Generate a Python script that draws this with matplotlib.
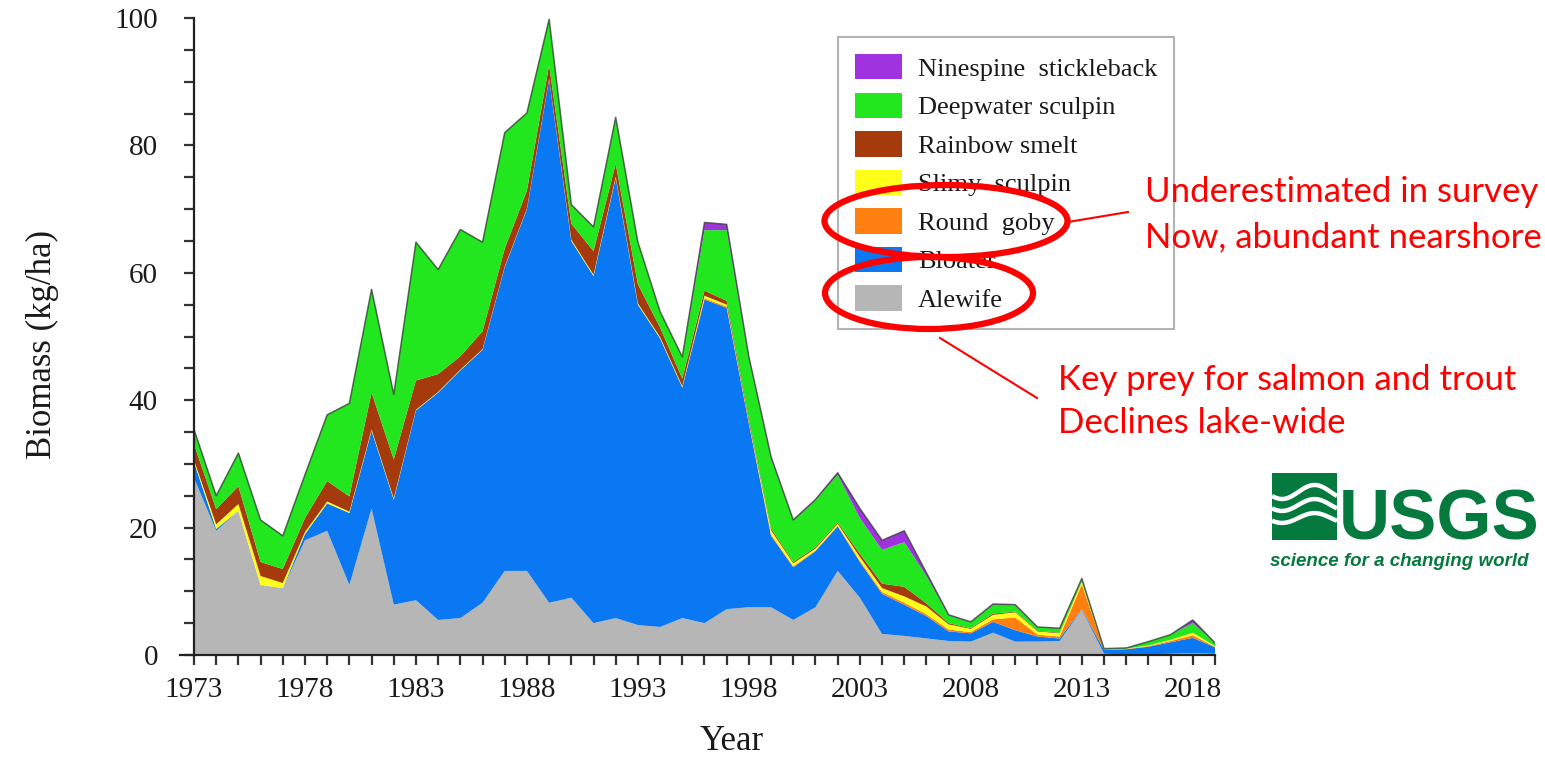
import matplotlib
matplotlib.use("Agg")
import matplotlib.pyplot as plt
from matplotlib.patches import Ellipse, Rectangle
from matplotlib.lines import Line2D
import numpy as np

# ---- data (kg/ha) ----
years = list(range(1973, 2020))

alewife = [27.8, 19.5, 22.6, 11.0, 10.5, 18.0, 19.5, 11.0, 23.0, 7.9,
           8.6, 5.5, 5.8, 8.2, 13.2, 13.2, 8.2, 9.0, 5.0, 5.8,
           4.7, 4.4, 5.8, 5.0, 7.2, 7.5, 7.5, 5.5, 7.5, 13.2,
           9.0, 3.3, 3.0, 2.6, 2.2, 2.1, 3.5, 2.1, 2.1, 2.2,
           7.1, 0.2, 0.1, 0.1, 0.2, 0.3, 0.2]
bloater = [2.5, 0.3, 0.0, 0.0, 0.0, 1.0, 4.3, 11.3, 12.2, 16.5,
           29.8, 35.7, 38.9, 39.7, 47.7, 56.8, 82.2, 56.0, 54.5, 69.1,
           50.3, 45.3, 36.2, 50.8, 47.3, 28.8, 11.2, 8.3, 8.8, 7.0,
           5.6, 6.3, 4.9, 3.5, 1.5, 1.3, 1.7, 1.8, 0.8, 0.4,
           0.1, 0.6, 0.8, 1.2, 1.8, 2.4, 1.0]
round_goby = [0.0] * 23 + [0.2, 0.2, 0.1, 0.2, 0.1, 0.1, 0.1,
              0.2, 0.3, 0.3, 0.3, 0.3, 0.2, 0.4, 2.0, 0.3, 0.3,
              3.9, 0.1, 0.05, 0.1, 0.2, 0.4, 0.1]
slimy_sculpin = [0.3, 0.7, 1.1, 1.4, 0.8, 0.3, 0.3, 0.2, 0.2, 0.2,
                 0.1, 0.1, 0.1, 0.1, 0.1, 0.1, 0.1, 0.2, 0.2, 0.2,
                 0.2, 0.2, 0.2, 0.4, 0.3, 0.2, 0.7, 0.5, 0.3, 0.3,
                 0.6, 0.6, 1.0, 1.2, 0.8, 0.5, 0.7, 0.8, 0.5, 0.5,
                 0.4, 0.0, 0.05, 0.1, 0.2, 0.4, 0.1]
rainbow_smelt = [2.5, 2.4, 2.8, 2.2, 2.2, 2.2, 3.2, 2.4, 5.8, 6.1,
                 4.6, 2.8, 2.1, 2.8, 2.8, 2.8, 2.1, 2.5, 3.7, 2.0,
                 3.0, 1.5, 1.2, 0.8, 0.6, 0.5, 0.3, 0.2, 0.2, 0.2,
                 0.5, 0.7, 1.5, 0.5, 0.2, 0.1, 0.2, 0.1, 0.1, 0.1,
                 0.1, 0.0, 0.0, 0.0, 0.0, 0.0, 0.0]
deepwater_sculpin = [2.3, 2.1, 5.2, 6.6, 5.2, 6.8, 10.4, 14.6, 16.2, 10.2,
                     21.7, 16.4, 19.9, 14.0, 18.2, 12.2, 7.2, 3.0, 3.8, 7.3,
                     6.6, 2.5, 3.4, 9.5, 11.1, 9.5, 11.0, 6.5, 7.4, 7.5,
                     5.6, 5.3, 7.0, 4.3, 1.2, 0.95, 1.4, 1.0, 0.55, 0.65,
                     0.4, 0.1, 0.1, 0.6, 0.8, 1.5, 0.5]
ninespine_stickleback = [0.0] * 23 + [1.2, 0.9, 0.2, 0.2, 0.1, 0.1, 0.3,
                         1.5, 1.5, 1.8, 0.5, 0.1, 0.05, 0.1, 0.1, 0.05, 0.05,
                         0.0, 0.0, 0.0, 0.0, 0.0, 0.5, 0.0]

series = [alewife, bloater, round_goby, slimy_sculpin, rainbow_smelt,
          deepwater_sculpin, ninespine_stickleback]
names = ["Alewife", "Bloater", "Round  goby", "Slimy  sculpin", "Rainbow smelt",
         "Deepwater sculpin", "Ninespine  stickleback"]
colors = ["#b6b6b6", "#0a78f2", "#ff7f10", "#ffff1a", "#a53a0c",
          "#22e61e", "#a032e0"]

W, H = 1545, 758


def fx(x):
    return x / W


def fy(y):
    return 1 - y / H


serif = ["Liberation Serif", "DejaVu Serif"]
ink = "#1a1a1a"

fig = plt.figure(figsize=(W / 100, H / 100), dpi=100)
fig.patch.set_facecolor("white")

ax = fig.add_axes([fx(194), fy(655), (1215 - 194) / W, (655 - 18) / H])
ax.stackplot(years, *series, colors=colors, labels=names, linewidth=0)
total = np.sum(np.array(series), axis=0)
ax.plot(years, total, color="#334433", lw=1.1, alpha=0.8)

ax.set_xlim(1973, 2019)
ax.set_ylim(0, 100)
ax.set_xticks(range(1973, 2019, 5))
ax.set_xticks(range(1973, 2020), minor=True)
ax.set_yticks(range(0, 101, 20))
ax.set_yticks(range(0, 101, 5), minor=True)
for s in ("top", "right"):
    ax.spines[s].set_visible(False)
for s in ("left", "bottom"):
    ax.spines[s].set_linewidth(1.6)
    ax.spines[s].set_color("#222222")
ax.tick_params(which="both", direction="out", length=7, width=1.6, color="#333333")
ax.tick_params(axis="x", which="major", pad=9)
ax.tick_params(axis="y", which="major", pad=19)
for lab in ax.get_xticklabels() + ax.get_yticklabels():
    lab.set_fontfamily(serif)
    lab.set_fontsize(21)
    lab.set_color(ink)

# short extension of the base line to the left of the first year
fig.add_artist(Line2D([fx(180), fx(194)], [fy(655), fy(655)], transform=fig.transFigure,
                      color="#222222", lw=1.6))

fig.text(fx(732), fy(741), "Year", fontfamily=serif, fontsize=25, color=ink,
         ha="center", va="center")
fig.text(fx(42), fy(345), "Biomass (kg/ha)", fontfamily=serif, fontsize=25, color=ink,
         ha="center", va="center", rotation=90)

handles, labels = ax.get_legend_handles_labels()
leg = ax.legend(handles[::-1], labels[::-1], loc="upper left",
                bbox_to_anchor=(fx(838), fy(37)), bbox_transform=fig.transFigure,
                borderaxespad=0, prop={"family": serif, "size": 19},
                handlelength=1.78, handleheight=1.1, labelspacing=0.45,
                borderpad=0.65, handletextpad=0.6, fancybox=False, frameon=True)
leg.get_frame().set_edgecolor("#a0a0a0")
leg.get_frame().set_linewidth(1.5)
for t in leg.get_texts():
    t.set_color(ink)

# ---- callouts ----
red = "#ff0000"
fig.add_artist(Ellipse((fx(946), fy(221)), 243 / W, 72 / H, transform=fig.transFigure,
                       fill=False, edgecolor=red, lw=4.5, zorder=10))
fig.add_artist(Ellipse((fx(929), fy(293)), 208 / W, 72 / H, transform=fig.transFigure,
                       fill=False, edgecolor=red, lw=4.5, zorder=10))
fig.add_artist(Line2D([fx(1068), fx(1128)], [fy(222), fy(212)], transform=fig.transFigure,
                      color=red, lw=1.5, zorder=10))
fig.add_artist(Line2D([fx(940), fx(1037)], [fy(338), fy(398)], transform=fig.transFigure,
                      color=red, lw=1.5, zorder=10))

callout_font = ["Lato", "DejaVu Sans"]
for x, y, txt in [(1145, 192, "Underestimated in survey"),
                  (1145, 237, "Now, abundant nearshore"),
                  (1058, 380, "Key prey for salmon and trout"),
                  (1058, 423, "Declines lake-wide")]:
    fig.text(fx(x), fy(y), txt, color=red, fontsize=25, family=callout_font,
             va="center", ha="left")

# ---- USGS identifier ----
green = "#047a3e"
fig.add_artist(Rectangle((fx(1272), fy(540)), (1337 - 1272) / W, (540 - 473) / H,
                         transform=fig.transFigure, facecolor=green, edgecolor="none"))
wx = np.linspace(1272, 1337, 60)
for k, y0 in enumerate([492, 505, 518]):
    wy = y0 + 7 * np.sin((wx - 1272) / 65 * 2 * np.pi + 0.6) * (1 - 0.15 * k)
    fig.add_artist(Line2D(fx(wx), fy(wy), transform=fig.transFigure,
                          color="white", lw=3.2, solid_capstyle="butt"))
fig.text(fx(1339), fy(540), "USGS", color=green, fontsize=51, fontweight="bold",
         family=["Liberation Sans", "DejaVu Sans"], ha="left", va="baseline")
fig.text(fx(1270), fy(562), "science for a changing world", color=green, fontsize=13.5,
         fontweight="bold", fontstyle="italic", family=["Liberation Sans", "DejaVu Sans"],
         ha="left", va="center")

fig.savefig("out.png", dpi=100, facecolor="white")
